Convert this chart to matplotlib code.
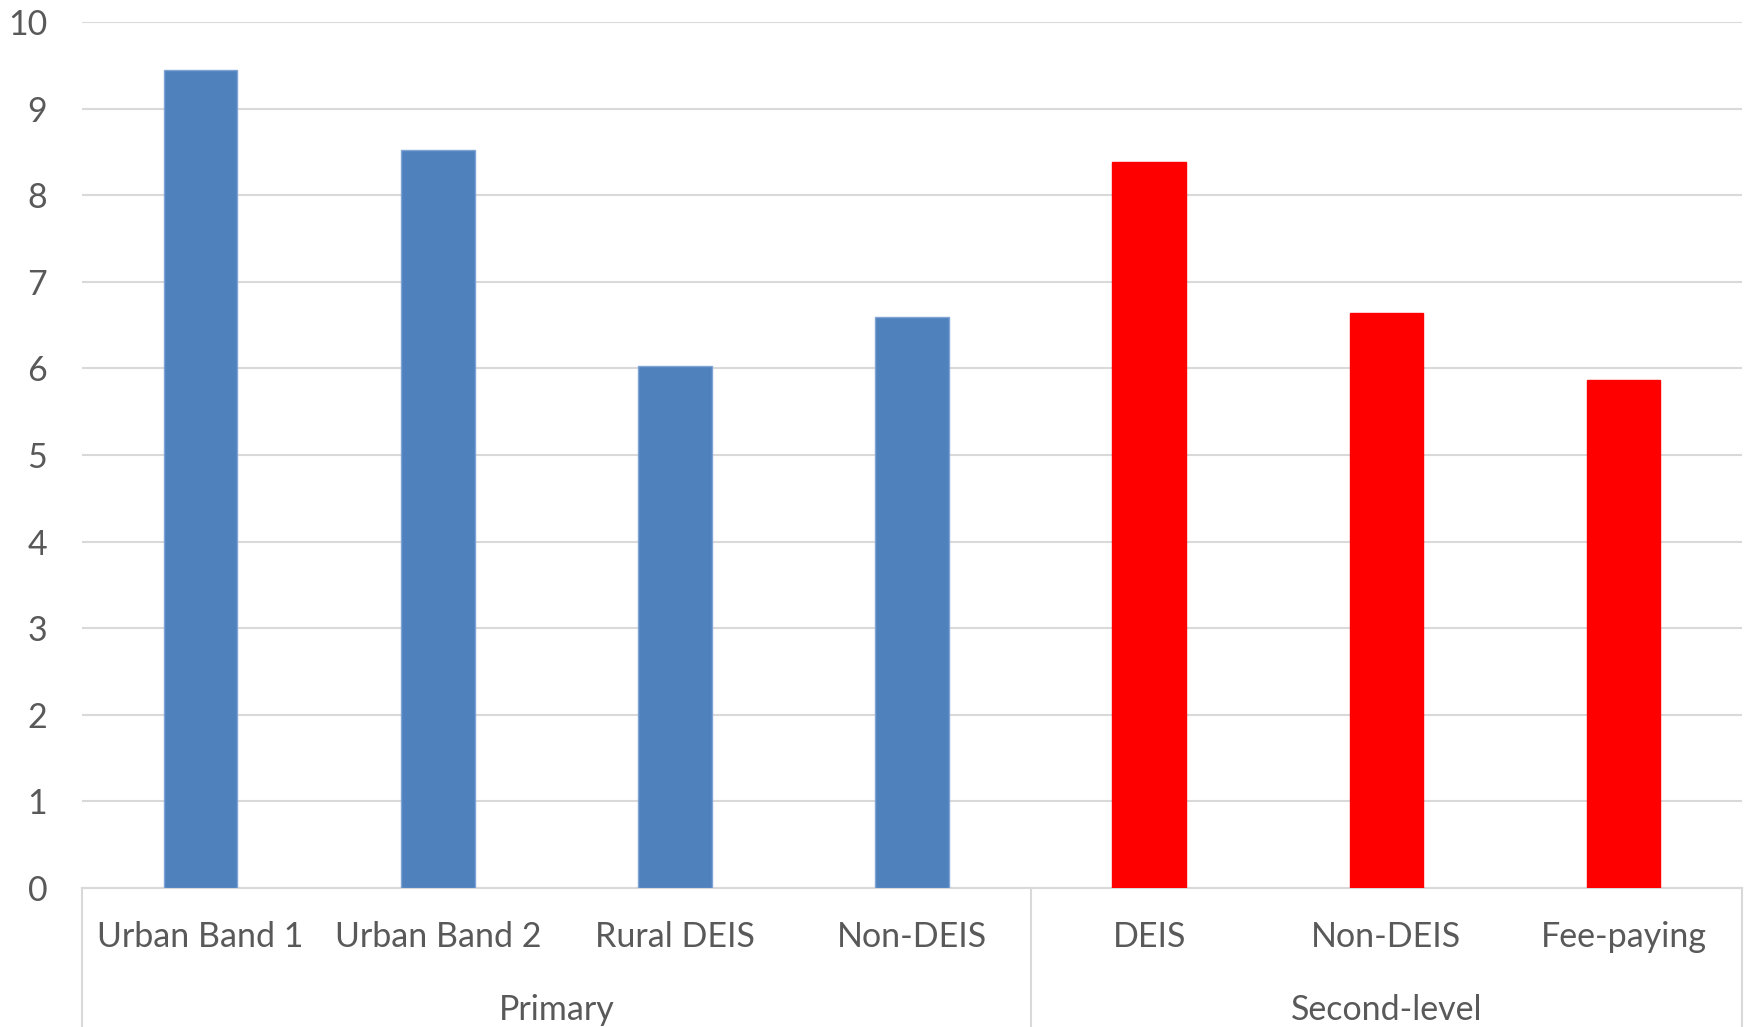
import matplotlib.pyplot as plt
import matplotlib.transforms as mtransforms

categories = ["Urban Band 1", "Urban Band 2", "Rural DEIS", "Non-DEIS",
              "DEIS", "Non-DEIS", "Fee-paying"]
values = [9.45, 8.52, 6.03, 6.59, 8.38, 6.64, 5.87]
groups = ["Primary", "Second-level"]
group_sizes = [4, 3]
group_colors = ["#4F81BD", "#FF0000"]
yticks = [0, 1, 2, 3, 4, 5, 6, 7, 8, 9, 10]

plt.rcParams["font.family"] = ["Lato", "DejaVu Sans"]
text_col = "#595959"
grid_col = "#d9d9d9"
fsize = 24.5

fig = plt.figure(figsize=(17.46, 10.27), dpi=100)
ax = fig.add_axes([0.047, 0.1354, 0.9507, 0.8432])

bar_colors = []
for color, n in zip(group_colors, group_sizes):
    bar_colors += [color] * n
edge_colors = ["#7fa4d4" if c == "#4F81BD" else c for c in bar_colors]

x = list(range(len(categories)))
ax.bar(x, values, width=0.31, color=bar_colors, edgecolor=edge_colors,
       linewidth=1, zorder=3)

ax.set_xlim(-0.5, len(categories) - 0.5)
ax.set_ylim(0, 10)
ax.set_yticks(yticks)
ax.yaxis.grid(True, color=grid_col, linewidth=1.5, zorder=0)
ax.set_axisbelow(True)

for side in ["left", "right", "top"]:
    ax.spines[side].set_visible(False)
ax.spines["bottom"].set_color(grid_col)
ax.spines["bottom"].set_linewidth(1.5)

ax.set_xticks(x)
ax.set_xticklabels(categories)
ax.tick_params(axis="x", length=0, pad=24, labelsize=fsize, labelcolor=text_col)
ax.tick_params(axis="y", length=0, pad=25, labelsize=fsize, labelcolor=text_col)

# group separators and group labels under the category labels
trans = mtransforms.blended_transform_factory(ax.transData, ax.transAxes)
edges = [-0.5]
for n in group_sizes:
    edges.append(edges[-1] + n)
for xe in edges:
    ax.plot([xe, xe], [0, -0.2], transform=trans, color=grid_col,
            linewidth=1.5, clip_on=False)
for name, lo, hi in zip(groups, edges[:-1], edges[1:]):
    ax.text((lo + hi) / 2, -0.141, name, transform=trans, ha="center",
            va="center", fontsize=fsize, color=text_col)

fig.savefig("out.png", dpi=100)
